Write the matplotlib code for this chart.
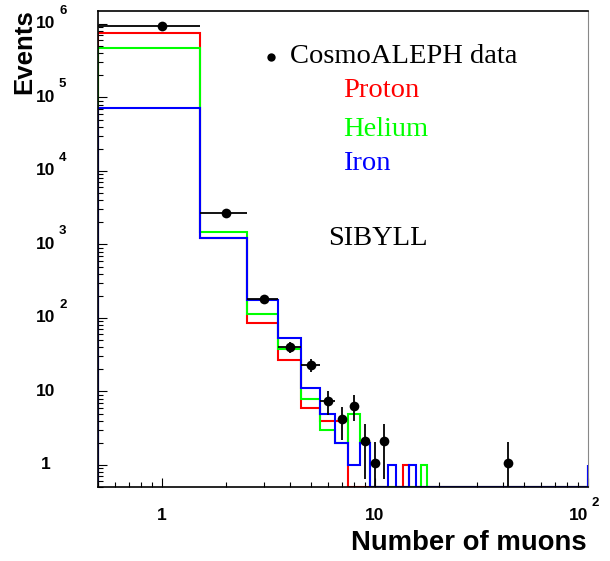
import matplotlib.pyplot as plt
import matplotlib.transforms as mtransforms
from matplotlib.ticker import LogLocator, NullFormatter, FixedLocator
import numpy as np

plt.rcParams['font.family'] = ['Liberation Sans', 'DejaVu Sans']

# CosmoALEPH data (number of muons per event)
data_n = [1, 2, 3, 4, 5, 6, 7, 8, 9, 10, 11, 42]
data_events = [9.5e5, 2660, 180, 40, 23, 7.4, 4.2, 6.4, 2.1, 1.05, 2.1, 1.05]
data_err = [975, 52, 13.4, 6.3, 4.8, 2.7, 2.0, 2.5, 1.45, 1.0, 1.45, 1.0]
data_xerr = [0.5, 0.5, 0.5, 0.5, 0.5, 0.5, 0, 0, 0, 0, 0, 0]

# SIBYLL simulation, bins of 1..17 muons
proton = [7.55e5, 1240, 86, 26.5, 6, 4, 4, 0, 0, 0, 0, 0, 0, 1, 0, 0, 0]
helium = [4.67e5, 1470, 112, 37.5, 8, 3, 2, 5, 2, 0, 0, 0, 0, 0, 0, 0, 1]
iron = [7.26e4, 1240, 174, 53, 11, 5, 2, 1, 2, 0, 0, 1, 0, 0, 1, 0, 0]
iron_n100 = 1  # one iron event in the 100 muon bin

W, H = 610, 561
ymin, ymax = 0.5, 1.5e6
edges = np.arange(0.5, 101, 1.0)


def full(vals):
    h = np.zeros(len(edges) - 1)
    h[:len(vals)] = vals
    return h


h_p = full(proton)
h_he = full(helium)
h_fe = full(iron)
h_fe[99] = iron_n100

fig = plt.figure(figsize=(W / 100, H / 100), dpi=100)
ax = fig.add_axes([98 / W, 1 - 487 / H, 490 / W, 476 / H])
ax.set_xscale('log')
ax.set_yscale('log')
ax.set_xlim(0.5, 100)
ax.set_ylim(ymin, ymax)

for h, c in [(h_p, '#ff0000'), (h_he, '#00ff00'), (h_fe, '#0000ff')]:
    ax.stairs(np.where(h > 0, h, ymin), edges, baseline=ymin, color=c, lw=1.5)

ev = np.array(data_events)
err = np.array(data_err)
lo = np.minimum(err, ev - 0.3)
ax.errorbar(data_n, ev, yerr=[lo, err], xerr=data_xerr, fmt='o', color='k',
            ms=7, mew=0, elinewidth=1.3, capsize=0, zorder=5)

# ROOT style frame and ticks
for s in ['left', 'bottom', 'top']:
    ax.spines[s].set_linewidth(1.2)
ax.spines['right'].set_color('#888888')
ax.tick_params(which='both', direction='in', top=False, right=False,
               labelbottom=False, labelleft=False, width=0.8)
ax.tick_params(which='major', length=6.5)
ax.tick_params(which='minor', length=3.6)
ax.xaxis.set_major_locator(FixedLocator([1, 10, 100]))
ax.yaxis.set_major_locator(FixedLocator([1, 10, 1e2, 1e3, 1e4, 1e5, 1e6]))
ax.xaxis.set_minor_locator(LogLocator(base=10, subs=np.arange(2, 10), numticks=20))
ax.yaxis.set_minor_locator(LogLocator(base=10, subs=np.arange(2, 10), numticks=20))
ax.xaxis.set_minor_formatter(NullFormatter())
ax.yaxis.set_minor_formatter(NullFormatter())

# tick labels
ytr = mtransforms.blended_transform_factory(fig.transFigure, ax.transData)
ytr_sup = mtransforms.offset_copy(ytr, fig=fig, x=0, y=13, units='dots')
for p in range(7):
    base = '1' if p == 0 else '10'
    fig.text(45.5 / W, 10 ** p, base, transform=ytr, ha='center', va='center',
             fontsize=12.5, fontweight='bold')
    if p > 1:
        fig.text(59 / W, 10 ** p, str(p), transform=ytr_sup, ha='left', va='center',
                 fontsize=9.5, fontweight='bold')

xtr = mtransforms.blended_transform_factory(ax.transData, fig.transFigure)
xtr_base = mtransforms.offset_copy(xtr, fig=fig, x=-9, y=0, units='dots')
xtr_sup = mtransforms.offset_copy(xtr, fig=fig, x=4, y=13, units='dots')
fig.text(1, 1 - 516 / H, '1', transform=xtr, ha='center', va='center',
         fontsize=12.5, fontweight='bold')
fig.text(10, 1 - 516 / H, '10', transform=xtr, ha='center', va='center',
         fontsize=12.5, fontweight='bold')
fig.text(100, 1 - 516 / H, '10', transform=xtr_base, ha='center', va='center',
         fontsize=12.5, fontweight='bold')
fig.text(100, 1 - 516 / H, '2', transform=xtr_sup, ha='left', va='center',
         fontsize=9.5, fontweight='bold')

# axis titles
fig.text(24 / W, 1 - 9 / H, 'Events', rotation=90, ha='center', va='top',
         fontsize=18.5, fontweight='bold')
fig.text(587 / W, 1 - 550 / H, 'Number of muons', ha='right', va='baseline',
         fontsize=19.8, fontweight='bold')

# legend
serif = ['Liberation Serif', 'DejaVu Serif']
fig.lines.append(plt.Line2D([270.7 / W], [1 - 57 / H], marker='o', ms=6, mew=0,
                            color='k', transform=fig.transFigure))
fig.text(290 / W, 1 - 62.7 / H, 'CosmoALEPH data', family=serif, fontsize=20.5,
         va='baseline', color='k')
fig.text(342.7 / W, 1 - 96.7 / H, 'Proton', family=serif, fontsize=20.5,
         va='baseline', color='#ff0000')
fig.text(342.7 / W, 1 - 136 / H, 'Helium', family=serif, fontsize=20.5,
         va='baseline', color='#00ff00')
fig.text(342.7 / W, 1 - 170 / H, 'Iron', family=serif, fontsize=20.5,
         va='baseline', color='#0000ff')
fig.text(328.3 / W, 1 - 245 / H, 'SIBYLL', family=serif, fontsize=20.5,
         va='baseline', color='k')

fig.savefig('out.png', dpi=100)
